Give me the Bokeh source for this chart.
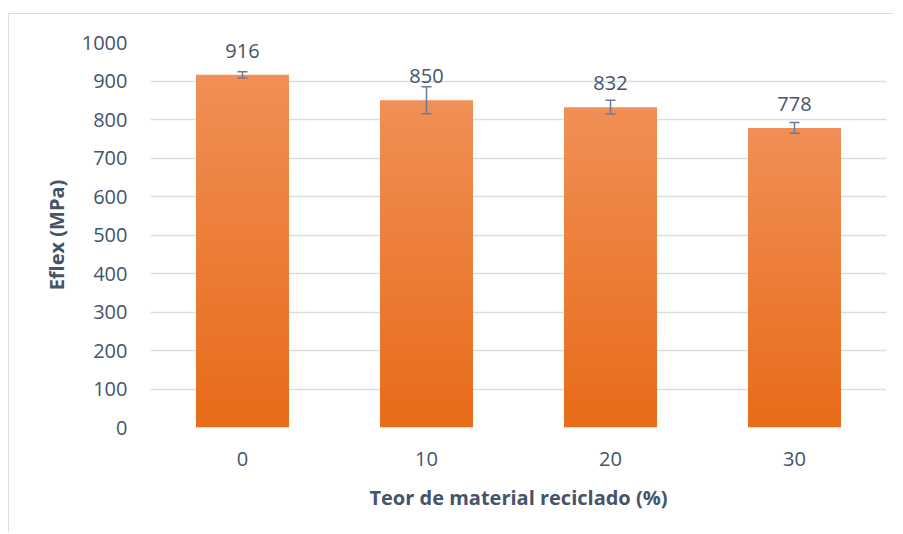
from bokeh.plotting import figure
from bokeh.models import ColumnDataSource, FactorRange, Range1d, Whisker, FixedTicker
from bokeh.embed import file_html
from bokeh.resources import INLINE
from bokeh.core.properties import value

# ---- data ----
categories = ["0", "10", "20", "30"]
eflex = [916, 850, 832, 778]
errors = [8, 35, 18, 14]
labels = ["916", "850", "832", "778"]
y_ticks = [0, 100, 200, 300, 400, 500, 600, 700, 800, 900, 1000]

# ---- style ----
TEXT = "#44546A"
GRID = "#D9DEE6"
TOP_C = (241, 143, 86)
BOT_C = (231, 107, 24)
FONT = "Open Sans"
N = 80
BAR_W = 0.505
ERR_C = "#687C9A"

p = figure(
    x_range=FactorRange(*categories, range_padding=0),
    y_range=Range1d(0, 1000),
    width=885, height=519,
    output_backend="svg", toolbar_location=None,
    min_border_left=141, min_border_right=8,
    min_border_top=28, min_border_bottom=106,
)
p.styles = {"margin-top": "13px", "margin-left": "8px",
            "border-top": "1px solid #D9DEE6",
            "border-left": "1px solid #D9DEE6"}
p.outline_line_color = None
p.background_fill_color = "white"
p.border_fill_color = "white"

# gradient bars (stacked thin slices, lighter at top)
xs, bottoms, tops, colors = [], [], [], []
for c, v in zip(categories, eflex):
    for i in range(N):
        t = (i + 0.5) / N
        col = tuple(int(round(BOT_C[k] + (TOP_C[k] - BOT_C[k]) * t)) for k in range(3))
        xs.append(c)
        bottoms.append(v * i / N)
        tops.append(min(v, v * (i + 1.6) / N))
        colors.append("#%02x%02x%02x" % col)
seg = ColumnDataSource(dict(x=xs, bottom=bottoms, top=tops, color=colors))
p.vbar(x="x", bottom="bottom", top="top", width=BAR_W, fill_color="color",
       line_color=None, source=seg)

src = ColumnDataSource(dict(
    x=categories, y=eflex,
    upper=[v + e for v, e in zip(eflex, errors)],
    lower=[v - e for v, e in zip(eflex, errors)],
    label=labels,
))

w = Whisker(base="x", upper="upper", lower="lower", source=src,
            line_color=ERR_C, line_width=1.5, level="overlay")
w.upper_head.line_color = ERR_C
w.lower_head.line_color = ERR_C
w.upper_head.line_width = 1.5
w.lower_head.line_width = 1.5
w.upper_head.size = 10
w.lower_head.size = 10
p.add_layout(w)

p.text(x="x", y="y", text="label", source=src, text_align="center",
       text_baseline="alphabetic", y_offset=-24, text_color=TEXT,
       text_font=value(FONT), text_font_size="20px")

# axes
p.yaxis.ticker = FixedTicker(ticks=y_ticks)
for ax in (p.xaxis[0], p.yaxis[0]):
    ax.axis_line_color = None
    ax.major_tick_line_color = None
    ax.minor_tick_line_color = None
    ax.major_label_text_color = TEXT
    ax.major_label_text_font = FONT
    ax.major_label_text_font_size = "20px"
    ax.axis_label_text_color = TEXT
    ax.axis_label_text_font = FONT
    ax.axis_label_text_font_size = "20px"
    ax.axis_label_text_font_style = "bold"
p.yaxis.major_label_standoff = 17
p.xaxis.major_label_standoff = 18
p.yaxis.axis_label_standoff = 9
p.xaxis.axis_label_standoff = 15
p.yaxis.axis_label = "Eflex (MPa)"
p.xaxis.axis_label = "Teor de material reciclado (%)"

p.xgrid.grid_line_color = None
p.ygrid.grid_line_color = GRID
p.ygrid.grid_line_width = 1.5
p.ygrid.level = "underlay"

open("out.html", "w").write(file_html(p, INLINE))
